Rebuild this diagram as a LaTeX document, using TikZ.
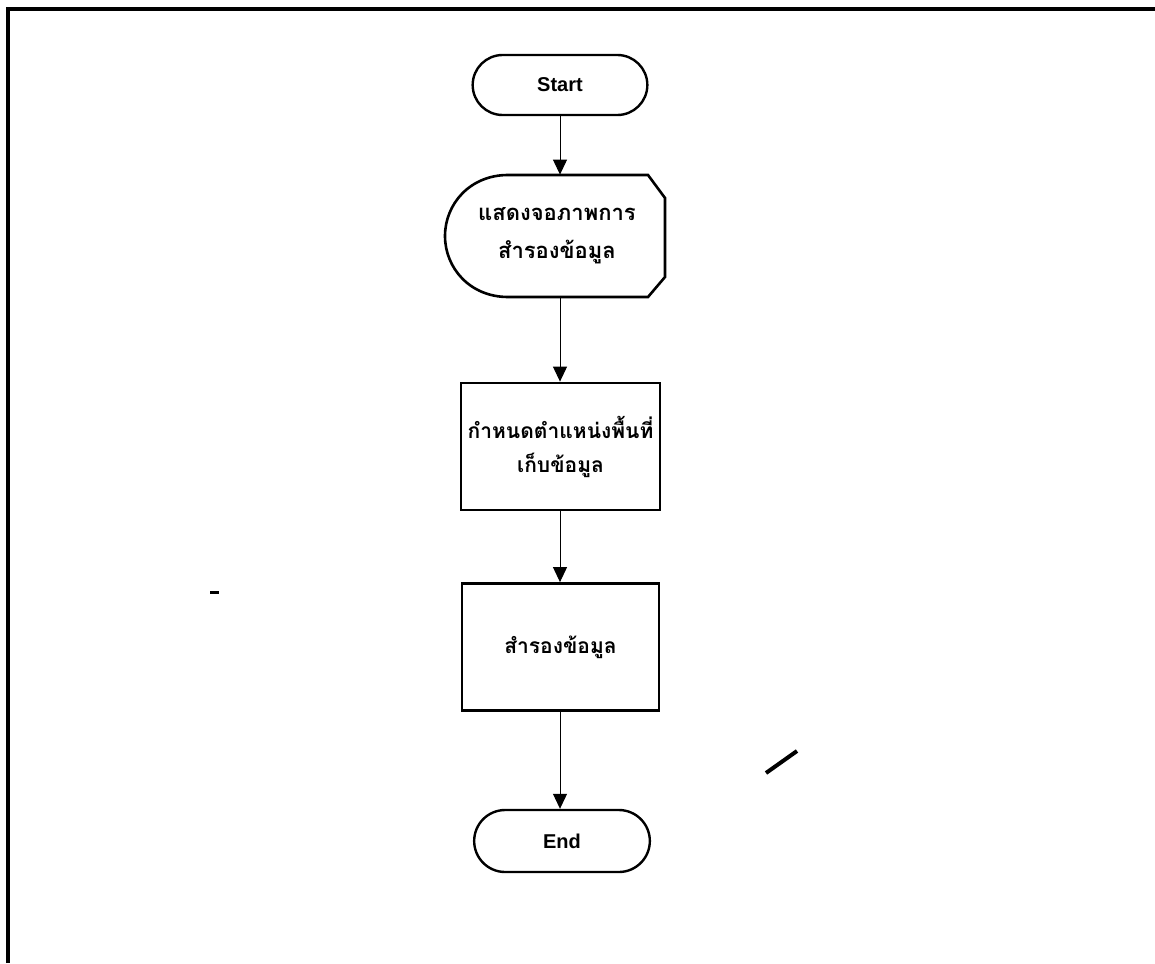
\documentclass[tikz,border=0pt]{standalone}
\usepackage{fontspec}
\setmainfont{Liberation Sans}
\newfontfamily\thaifont[Script=Thai]{Loma}
\usepackage{xcolor}
\usetikzlibrary{positioning, arrows.meta, shapes.misc}

\tikzset{
  terminal/.style={draw, line width=1.2pt, rounded rectangle, minimum width=94pt, minimum height=30pt, font=\bfseries\fontsize{10}{12}\selectfont},
  process/.style={draw, line width=1.4pt, minimum width=98.5pt, minimum height=63.5pt, align=center, font=\thaifont\bfseries\fontsize{10.5}{17}\selectfont},
  flow/.style={-{Triangle[length=7.5pt,width=7pt]}, line width=0.5pt}
}

\begin{document}
\begin{tikzpicture}[x=0.5pt, y=-0.5pt]
\useasboundingbox (0,0) rectangle (1155,963);
% frame
\draw[line width=1.6pt] (8,963) -- (8,9) -- (1155,9);

% flowchart
\node[terminal] (start) at (560,85) {Start};
\node[minimum width=110pt, minimum height=61pt, align=center, font=\thaifont\bfseries\fontsize{11}{19}\selectfont] (disp) at (557,236) {แสดงจอภาพการ\\สำรองข้อมูล};
\draw[line width=1.3pt] (648,175) -- (665,198) -- (665,277) -- (648,297) -- (508,297)
  .. controls (470,297) and (445,268) .. (445,236)
  .. controls (445,204) and (470,175) .. (508,175) -- cycle;
\node[process] (setpos) at (560.5,446.5) {กำหนดตำแหน่งพื้นที่\\เก็บข้อมูล};
\node[process] (backup) at (560.5,647) {สำรองข้อมูล};
\node[terminal, minimum width=94.5pt, minimum height=31pt] (finish) at (562,841) {End};

\draw[flow] (start.south) -- (start.south |- disp.north);
\draw[flow] (start.south |- disp.south) -- (start.south |- setpos.north);
\draw[flow] (start.south |- setpos.south) -- (start.south |- backup.north);
\draw[flow] (start.south |- backup.south) -- (start.south |- finish.north);

% stray marks
\draw[line width=1.5pt] (210,592) -- (219,592);
\draw[line width=2pt] (797,751) -- (766,773);
\end{tikzpicture}
\end{document}
